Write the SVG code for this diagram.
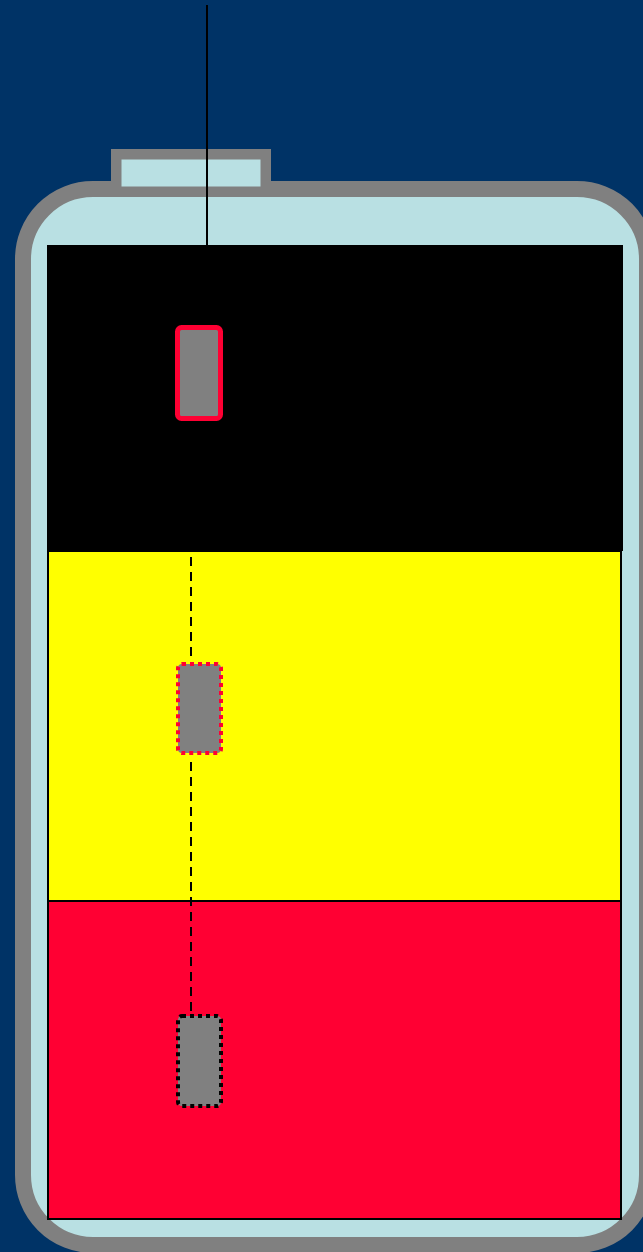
<svg xmlns="http://www.w3.org/2000/svg" width="643" height="1252" viewBox="0 0 643 1252">
<style>
.body{fill:#B9E0E3;stroke:#808080}
.lane{stroke:#000;stroke-width:2}
.node{fill:#808080}
.conn{stroke:#000;stroke-width:2;fill:none}
</style>
<rect x="0" y="0" width="643" height="1252" fill="#003366"/>
<g id="battery">
<rect class="body" x="23" y="189" width="624" height="1056" rx="70" ry="70" stroke-width="16"/>
<rect class="body" x="116" y="154" width="150" height="33" stroke-width="10"/>
<rect class="body" x="121" y="159" width="140" height="28" stroke="none"/>
</g>
<g id="lanes">
<rect id="lane-black" x="47" y="245" width="576" height="306" fill="#000"/>
<rect id="lane-yellow" class="lane" x="48" y="551" width="573" height="350" fill="#FFFF00"/>
<rect id="lane-red" class="lane" x="48" y="901" width="573" height="318" fill="#FF0033"/>
</g>
<g id="connectors">
<line class="conn" x1="207" y1="5" x2="207" y2="245"/>
<line class="conn" x1="191" y1="557" x2="191" y2="662" stroke-dasharray="9,6"/>
<line class="conn" x1="191" y1="762" x2="191" y2="1015" stroke-dasharray="9,6"/>
</g>
<g id="node1">
<rect class="node" x="177.5" y="327.5" width="43" height="91" rx="4" stroke="#FF0033" stroke-width="5"/>
</g>
<g id="node2">
<rect class="node" x="178" y="664" width="43" height="89" rx="4" stroke="#FF0033" stroke-width="4" stroke-dasharray="4,4"/>
</g>
<g id="node3">
<rect class="node" x="178" y="1016" width="43" height="90" rx="4" stroke="#000" stroke-width="4" stroke-dasharray="4,4"/>
</g>
</svg>
